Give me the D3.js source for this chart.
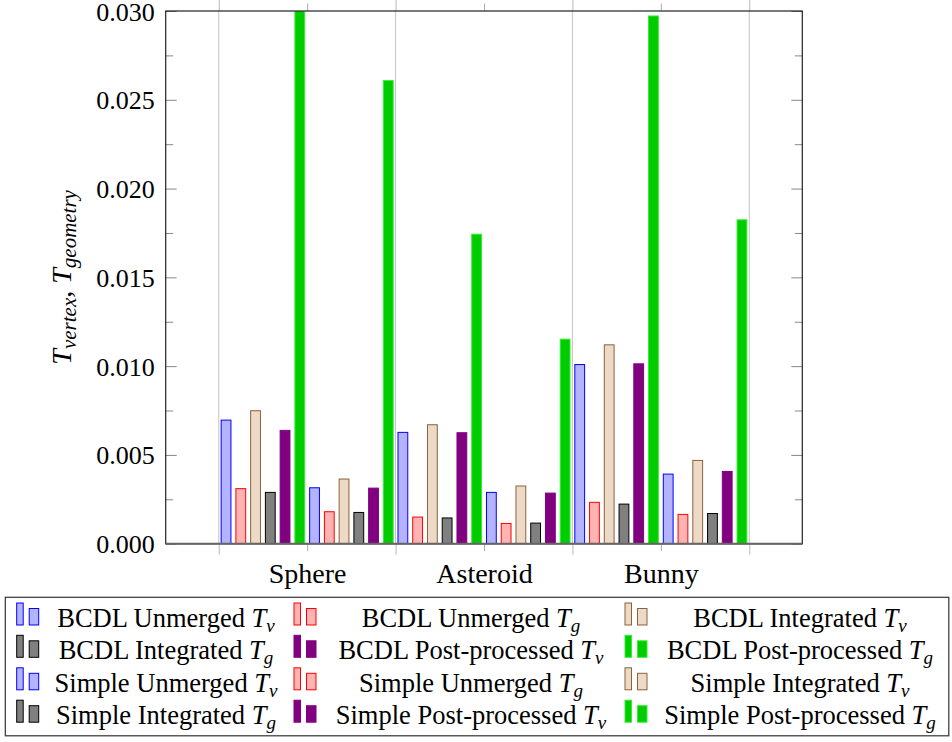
<!DOCTYPE html>
<html><head><meta charset="utf-8">
<script src="https://cdn.jsdelivr.net/npm/d3@7"></script>
<style>body{margin:0;background:#fff} text{font-family:"Liberation Serif","Times New Roman",serif}</style>
</head><body><svg id="c" width="952" height="742"></svg>
<script>
// ---- data ----
const categories = ["Sphere", "Asteroid", "Bunny"];
const bcdlUnmergedTv     = [0.00696, 0.00627, 0.01009];
const bcdlUnmergedTg     = [0.00310, 0.00150, 0.00233];
const bcdlIntegratedTv   = [0.00749, 0.00670, 0.01120];
const bcdlIntegratedTg   = [0.00289, 0.00145, 0.00223];
const bcdlPostTv         = [0.00638, 0.00625, 0.01013];
const bcdlPostTg         = [0.03000, 0.01743, 0.02972];
const simpleUnmergedTv   = [0.00315, 0.00289, 0.00392];
const simpleUnmergedTg   = [0.00180, 0.00114, 0.00165];
const simpleIntegratedTv = [0.00364, 0.00325, 0.00469];
const simpleIntegratedTg = [0.00176, 0.00116, 0.00170];
const simplePostTv       = [0.00313, 0.00285, 0.00407];
const simplePostTg       = [0.02608, 0.01152, 0.01824];
const seriesNames = ["BCDL Unmerged", "BCDL Unmerged", "BCDL Integrated", "BCDL Integrated",
  "BCDL Post-processed", "BCDL Post-processed", "Simple Unmerged", "Simple Unmerged",
  "Simple Integrated", "Simple Integrated", "Simple Post-processed", "Simple Post-processed"];
const seriesSubs = ["v","g","v","g","v","g","v","g","v","g","v","g"];
const yTicks = [0, 0.005, 0.010, 0.015, 0.020, 0.025, 0.030];
const yTickLabels = ["0.000","0.005","0.010","0.015","0.020","0.025","0.030"];
const yMinorTicks = [0.0025, 0.0075, 0.0125, 0.0175, 0.0225, 0.0275];

// ---- styles ----
const fills   = ["#b3b3ff","#ffb3b3","#ecd9c6","#808080","#800080","#00cc00"];
const strokes = ["#0000ff","#ff0000","#8c6239","#000000","#800080","#33ee33"];

const seriesValues = [bcdlUnmergedTv, bcdlUnmergedTg, bcdlIntegratedTv, bcdlIntegratedTg, bcdlPostTv, bcdlPostTg,
  simpleUnmergedTv, simpleUnmergedTg, simpleIntegratedTv, simpleIntegratedTg, simplePostTv, simplePostTg];
const series = seriesValues.map((v, i) => ({name: seriesNames[i], sub: seriesSubs[i], values: v,
  fill: fills[i % 6], stroke: strokes[i % 6]}));

const svg = d3.select("#c");
const L = 165.7, R = 802.3, T = 11, B = 543.7;
const x = d3.scaleLinear().domain([0.2, 3.8]).range([L, R]);
const y = d3.scaleLinear().domain([0, 0.03]).range([B, T]);
const step = 14.75, bw = 9.8;
const majorX = [0.5, 1.5, 2.5, 3.5];
const catPos = categories.map((c, i) => i + 1);

// grid
svg.append("g").selectAll("line").data(majorX).join("line")
  .attr("x1", d => x(d)).attr("x2", d => x(d)).attr("y1", T).attr("y2", B)
  .attr("stroke", "#c4c4c4").attr("stroke-width", 1);

// bars
svg.append("defs").append("clipPath").attr("id", "pc").append("rect")
  .attr("x", L).attr("y", T).attr("width", R - L).attr("height", B - T);
const bars = svg.append("g").attr("clip-path", "url(#pc)");
series.forEach((s, si) => {
  bars.append("g").selectAll("rect").data(s.values).join("rect")
    .attr("x", (d, gi) => x(catPos[gi]) + (si - 5.5) * step - bw / 2)
    .attr("width", bw)
    .attr("y", d => y(d)).attr("height", d => y(0) - y(d))
    .attr("fill", s.fill).attr("stroke", s.stroke).attr("stroke-width", 1);
});

function styleAxis(g, col) {
  g.select(".domain").remove();
  g.selectAll(".tick line").attr("stroke", col);
}
// y axes
const yl = svg.append("g").attr("transform", `translate(${L},0)`)
  .call(d3.axisLeft(y).tickValues(yTicks).tickSize(-11).tickPadding(22).tickFormat((d, i) => yTickLabels[i]));
styleAxis(yl, "#888");
yl.selectAll("text").attr("font-size", 26).attr("fill", "#000").attr("dy", "9").attr("x", -11);
const ylm = svg.append("g").attr("transform", `translate(${L},0)`)
  .call(d3.axisLeft(y).tickValues(yMinorTicks).tickSize(-7.5).tickFormat(""));
styleAxis(ylm, "#888");
const yr = svg.append("g").attr("transform", `translate(${R},0)`)
  .call(d3.axisRight(y).tickValues(yTicks).tickSize(-11).tickFormat(""));
styleAxis(yr, "#888");
const yrm = svg.append("g").attr("transform", `translate(${R},0)`)
  .call(d3.axisRight(y).tickValues(yMinorTicks).tickSize(-7.5).tickFormat(""));
styleAxis(yrm, "#888");

// x axes
const xb = svg.append("g").attr("transform", `translate(0,${B})`)
  .call(d3.axisBottom(x).tickValues(majorX).tickSize(11).tickFormat(""));
styleAxis(xb, "#bbb");
const xbm = svg.append("g").attr("transform", `translate(0,${B})`)
  .call(d3.axisBottom(x).tickValues(catPos).tickSize(7.5).tickFormat((d, i) => categories[i]));
styleAxis(xbm, "#aaa");
xbm.selectAll("text").attr("font-size", 28).attr("fill", "#000").attr("y", 39.5).attr("dy", 0);
const xt = svg.append("g").attr("transform", `translate(0,${T})`)
  .call(d3.axisTop(x).tickValues(majorX).tickSize(11).tickFormat(""));
styleAxis(xt, "#bbb");
const xtm = svg.append("g").attr("transform", `translate(0,${T})`)
  .call(d3.axisTop(x).tickValues(catPos).tickSize(7.5).tickFormat(""));
styleAxis(xtm, "#aaa");

// frame
svg.append("rect").attr("x", L).attr("y", T).attr("width", R - L).attr("height", B - T)
  .attr("fill", "none").attr("stroke", "#222").attr("stroke-width", 1.2);
svg.append("line").attr("x1", L).attr("x2", R).attr("y1", B).attr("y2", B)
  .attr("stroke", "#666").attr("stroke-width", 2);

// y label
const yt = svg.append("text").attr("transform", `translate(71,${(T + B) / 2}) rotate(-90)`)
  .attr("text-anchor", "middle").attr("font-size", 28);
yt.append("tspan").attr("font-style", "italic").text("T");
yt.append("tspan").attr("font-style", "italic").attr("font-size", 21).attr("dy", 5).text("vertex");
yt.append("tspan").attr("dy", -5).text(", ");
yt.append("tspan").attr("font-style", "italic").text("T");
yt.append("tspan").attr("font-style", "italic").attr("font-size", 21).attr("dy", 5).text("geometry");

// legend
svg.append("rect").attr("x", 5.3).attr("y", 597.3).attr("width", 943.5).attr("height", 138.5)
  .attr("fill", "#fff").attr("stroke", "#333").attr("stroke-width", 1.2);
const colIcon = [16.7, 294, 625], colText = [166, 471, 800];
const rowBase = [627, 659.3, 691.8, 724.2];
const lg = svg.append("g").selectAll("g").data(series).join("g")
  .attr("transform", (d, i) => `translate(0,${rowBase[Math.floor(i / 3)]})`);
lg.append("rect").attr("x", (d, i) => colIcon[i % 3]).attr("y", -24).attr("width", 6.5).attr("height", 22)
  .attr("fill", d => d.fill).attr("stroke", d => d.stroke).attr("stroke-width", 1);
lg.append("rect").attr("x", (d, i) => colIcon[i % 3] + 12.5).attr("y", -18.5).attr("width", 9.5).attr("height", 16.5)
  .attr("fill", d => d.fill).attr("stroke", d => d.stroke).attr("stroke-width", 1);
const lt = lg.append("text").attr("x", (d, i) => colText[i % 3]).attr("y", 0)
  .attr("text-anchor", "middle").attr("font-size", 26.5);
lt.append("tspan").text(d => d.name + " ");
lt.append("tspan").attr("font-style", "italic").text("T");
lt.append("tspan").attr("font-style", "italic").attr("font-size", 19).attr("dy", 5).text(d => d.sub);
</script></body></html>
